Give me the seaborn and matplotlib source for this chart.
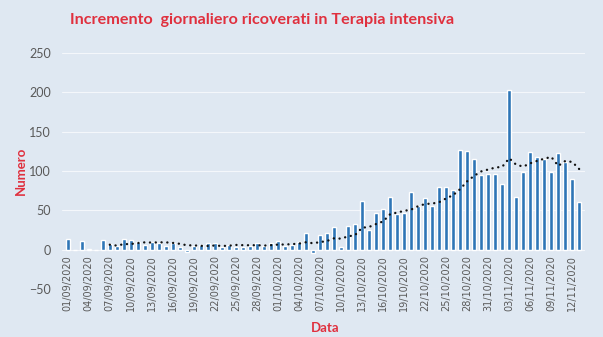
import matplotlib
matplotlib.use("Agg")
import matplotlib.pyplot as plt
import seaborn as sns
import pandas as pd
import numpy as np

dates = pd.date_range("2020-09-01", "2020-11-13", freq="D").strftime("%d/%m/%Y").tolist()
values = [13, 0, 11, 1, 0, 12, 7, 5, 13, 12,
          10, 6, 10, 9, 5, 8, 4, -3, 5, 6,
          8, 9, 4, 6, 4, 3, 5, 9, 5, 8,
          11, 5, 6, 10, 21, -4, 18, 21, 29, 3,
          30, 32, 62, 25, 47, 52, 67, 45, 47, 73,
          56, 66, 56, 79, 79, 76, 127, 125, 115, 95,
          96, 96, 83, 203, 67, 99, 124, 118, 115, 99,
          123, 111, 90, 60]
title = "Incremento  giornaliero ricoverati in Terapia intensiva"
ylabel = "Numero"
xlabel = "Data"

df = pd.DataFrame({"Data": dates, "Numero": values})
df["idx"] = np.arange(len(df))
df["media"] = df["Numero"].rolling(7).mean()

sns.set_theme(style="white")
plt.rcParams["font.family"] = ["Lato", "DejaVu Sans"]

bg = "#dfe8f2"
fig = plt.figure(figsize=(6.03, 3.37), dpi=100, facecolor=bg)
ax = fig.add_axes([0.103, 0.1424, 0.867, 0.7006])
ax.set_facecolor(bg)

sns.barplot(data=df, x="idx", y="Numero", color="#2e75b6", width=0.62,
            saturation=1, ax=ax, zorder=3)
sns.lineplot(data=df.dropna(), x="idx", y="media", color="#111111",
             linestyle=(0, (0.05, 2.4)), linewidth=1.7, dash_capstyle="round",
             ax=ax, zorder=4)

ax.spines["bottom"].set_position(("data", 0))
ax.set_ylim(-50, 250)
ax.set_yticks(range(-50, 251, 50))
ax.set_xlim(-0.8, len(df) - 0.2)
ticks = list(range(0, len(df), 3))
ax.set_xticks(ticks)
ax.set_xticklabels([dates[i] for i in ticks], rotation=90, fontsize=7,
                   color="#595959", family=["DejaVu Sans"], va="top", ha="center")
ax.tick_params(axis="x", length=0, pad=4, labelrotation=90)
ax.tick_params(axis="y", labelsize=9, colors="#595959", length=0, pad=8)
ax.yaxis.grid(True, color="#f4f7fb", linewidth=0.8, zorder=0)
for s in ax.spines.values():
    s.set_visible(False)

ax.set_ylabel(ylabel, color="#e0303e", fontsize=9.5, fontweight="bold")
ax.yaxis.set_label_coords(-0.068, 0.5)
ax.set_xlabel("")
fig.text(325 / 603, 1 - 328 / 337, xlabel, ha="center", va="center",
         color="#e0303e", fontsize=9.5, fontweight="bold")
fig.text(262 / 603, 0.94, title, ha="center", va="center", color="#e0303e",
         fontsize=11.6, fontweight="bold")

fig.savefig("out.png", dpi=100, facecolor=bg)
